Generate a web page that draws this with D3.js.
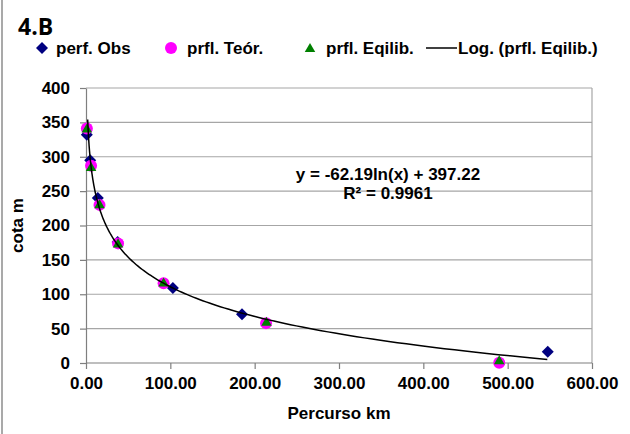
<!DOCTYPE html>
<html>
<head>
<meta charset="utf-8">
<script src="https://cdn.jsdelivr.net/npm/d3@7"></script>
<style>
  body { margin: 0; background: #fff; }
  text { font-family: "Liberation Sans", Arial, sans-serif; font-weight: bold; }
</style>
</head>
<body>
<div id="chart"></div>
<script>
// Series
const obsX = [1, 5, 14, 37.5, 103, 185, 547.5];
const obsY = [332, 295, 240, 176, 109, 71, 16.5];
const teorX = [1, 6, 16, 38, 92, 213.5, 490];
const teorY = [341, 287, 230, 174, 116, 58, 0.5];
const eqX = [1, 6, 16, 38, 92, 214, 490];
const eqY = [341, 285, 231, 174, 117, 60, 4];

const xTicks = [0, 100, 200, 300, 400, 500, 600];
const yTicks = [0, 50, 100, 150, 200, 250, 300, 350, 400];

// trendline coefficients (from the chart label)
const trendA = -62.19, trendB = 397.22;
const trendRange = [2, 547];

const W = 630, H = 434;
const margin = {top: 88, right: 38, bottom: 71, left: 86};

const svg = d3.select("#chart")
  .append("svg")
    .attr("width", W)
    .attr("height", H);

const x = d3.scaleLinear()
  .domain([0, 600])
  .range([margin.left, W - margin.right]);
const y = d3.scaleLinear()
  .domain([0, 400])
  .range([H - margin.bottom, margin.top]);

// outer left border
svg.append("line")
  .attr("x1", 2).attr("x2", 2)
  .attr("y1", 0).attr("y2", H)
  .attr("stroke", "#8c8c8c")
  .attr("stroke-width", 1.5);

// title
svg.append("text")
  .attr("x", 18)
  .attr("y", 35)
  .style("font-family", "'Open Sans', sans-serif")
  .style("font-size", "23px")
  .text("4.B");

// grid lines
svg.append("g")
  .selectAll("line")
  .data(yTicks.filter(d => d > 0))
  .join("line")
    .attr("x1", x(0))
    .attr("x2", x(600))
    .attr("y1", d => y(d))
    .attr("y2", d => y(d))
    .attr("stroke", "#a6a6a6")
    .attr("stroke-width", 1.2);

// right border
svg.append("line")
  .attr("x1", x(600)).attr("x2", x(600))
  .attr("y1", y(400)).attr("y2", y(0))
  .attr("stroke", "#a6a6a6")
  .attr("stroke-width", 1.2);

// Axes
const xAxis = svg.append("g")
  .attr("transform", `translate(0,${y(0)})`)
  .call(d3.axisBottom(x).tickValues(xTicks).tickSize(6).tickPadding(8).tickFormat(d3.format(".2f")));
const yAxis = svg.append("g")
  .attr("transform", `translate(${x(0)},0)`)
  .call(d3.axisLeft(y).tickValues(yTicks).tickSize(6).tickPadding(10).tickSizeOuter(0));

[xAxis, yAxis].forEach(g => {
  g.selectAll("path, line").attr("stroke", "#7f7f7f").attr("stroke-width", 1.2);
  g.selectAll("text")
    .attr("fill", "#000")
    .style("font-size", "17px")
    .style("font-family", "Liberation Sans, Arial, sans-serif")
    .style("font-weight", "bold");
});
xAxis.select(".domain").attr("d", `M${x(0)},0H${x(600)}`);

// axis labels
svg.append("text")
  .attr("x", (x(0) + x(600)) / 2)
  .attr("y", 419)
  .attr("text-anchor", "middle")
  .style("font-size", "17px")
  .text("Percurso km");
svg.append("text")
  .attr("transform", `translate(23,${(y(0) + y(400)) / 2}) rotate(-90)`)
  .attr("text-anchor", "middle")
  .style("font-size", "17px")
  .text("cota m");

// markers
const diamond = d3.symbol().type(d3.symbolSquare).size(72);
const triangle = d3.symbol().type(d3.symbolTriangle).size(48);

const obs = obsX.map((v, i) => ({x: v, y: obsY[i]}));
const teor = teorX.map((v, i) => ({x: v, y: teorY[i]}));
const eq = eqX.map((v, i) => ({x: v, y: eqY[i]}));

svg.append("g")
  .selectAll("path")
  .data(obs)
  .join("path")
    .attr("d", diamond)
    .attr("transform", d => `translate(${x(d.x)},${y(d.y)}) rotate(45)`)
    .attr("fill", "#000080");

svg.append("g")
  .selectAll("circle")
  .data(teor)
  .join("circle")
    .attr("cx", d => x(d.x))
    .attr("cy", d => y(d.y))
    .attr("r", 6)
    .attr("fill", "#ff00ff");

svg.append("g")
  .selectAll("path")
  .data(eq)
  .join("path")
    .attr("d", triangle)
    .attr("transform", d => `translate(${x(d.x)},${y(d.y) + 1})`)
    .attr("fill", "#008000");

// log trendline
const trend = d3.range(0, 201).map(i => {
  const xv = trendRange[0] * Math.pow(trendRange[1] / trendRange[0], i / 200);
  return {x: xv, y: trendA * Math.log(xv) + trendB};
});
svg.append("path")
  .datum(trend)
  .attr("fill", "none")
  .attr("stroke", "#000")
  .attr("stroke-width", 1.5)
  .attr("d", d3.line().x(d => x(d.x)).y(d => y(d.y)));

// equation label
svg.append("text")
  .attr("x", 388)
  .attr("y", 180)
  .attr("text-anchor", "middle")
  .style("font-size", "17px")
  .text("y = -62.19ln(x) + 397.22");
svg.append("text")
  .attr("x", 388)
  .attr("y", 199)
  .attr("text-anchor", "middle")
  .style("font-size", "17px")
  .text("R² = 0.9961");

// Legend
const legend = svg.append("g").attr("transform", "translate(0,48)");
legend.append("path")
  .attr("d", diamond)
  .attr("transform", "translate(42,0) rotate(45)")
  .attr("fill", "#000080");
legend.append("circle")
  .attr("cx", 171).attr("cy", 0).attr("r", 6)
  .attr("fill", "#ff00ff");
legend.append("path")
  .attr("d", triangle)
  .attr("transform", "translate(310,1)")
  .attr("fill", "#008000");
legend.append("line")
  .attr("x1", 426).attr("x2", 457)
  .attr("y1", 0).attr("y2", 0)
  .attr("stroke", "#000")
  .attr("stroke-width", 1.5);

const legendItems = [
  {label: "perf. Obs", x: 56},
  {label: "prfl. Teór.", x: 187},
  {label: "prfl. Eqilib.", x: 326},
  {label: "Log. (prfl. Eqilib.)", x: 458}
];
legend.selectAll(".lbl")
  .data(legendItems)
  .join("text")
    .attr("class", "lbl")
    .attr("x", d => d.x)
    .attr("y", 6)
    .style("font-size", "17px")
    .text(d => d.label);
</script>
</body>
</html>
